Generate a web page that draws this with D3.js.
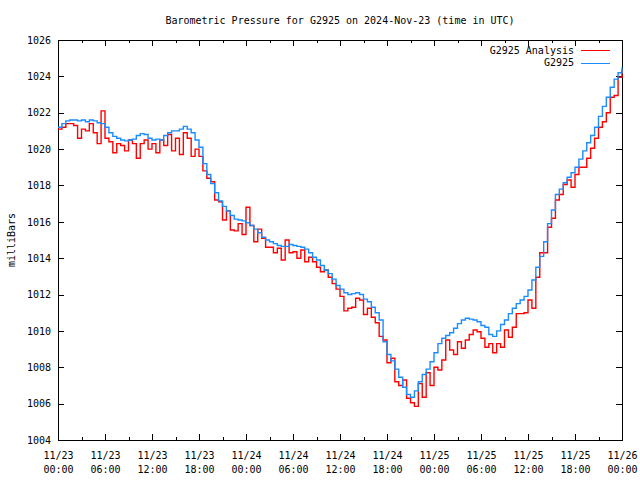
<!DOCTYPE html>
<html>
<head>
<meta charset="utf-8">
<script src="https://cdn.jsdelivr.net/npm/d3@7"></script>
<style>
  body { margin: 0; background: #fff; }
  svg { display: block; }
  text { font-family: "DejaVu Sans Mono", "Liberation Mono", monospace; font-size: 10px; fill: #000; }
</style>
</head>
<body>
<svg id="chart" width="640" height="480"></svg>
<script>
// ---------------- DATA ----------------
const titleText = "Barometric Pressure for G2925 on 2024-Nov-23 (time in UTC)";
const yAxisLabel = "milliBars";
const seriesNames = ["G2925 Analysis", "G2925"];
const startHour = 0;      // 11/23 00:00 UTC
const stepHours = 0.5;    // sample spacing
// X tick labels (every 6 hours from 11/23 00:00 to 11/26 00:00)
const xTickDates = ["11/23","11/23","11/23","11/23","11/24","11/24","11/24","11/24","11/25","11/25","11/25","11/25","11/26"];
const xTickTimes = ["00:00","06:00","12:00","18:00","00:00","06:00","12:00","18:00","00:00","06:00","12:00","18:00","00:00"];
const yTicks = [1004, 1006, 1008, 1010, 1012, 1014, 1016, 1018, 1020, 1022, 1024, 1026];

// G2925 (observed) — every 30 min
const g2925 = [
  1021.2,1021.4,1021.55,1021.6,1021.6,1021.55,1021.6,1021.5,1021.6,1021.55,
  1021.45,1021.4,1021.2,1020.9,1020.7,1020.6,1020.5,1020.45,1020.5,1020.55,
  1020.75,1020.85,1020.8,1020.6,1020.5,1020.55,1020.5,1020.75,1020.9,1021.0,
  1021.0,1021.1,1021.25,1021.1,1020.9,1020.5,1020.1,1019.2,1018.6,1018.1,
  1017.6,1017.15,1016.85,1016.6,1016.35,1016.15,1016.1,1016.05,1015.95,1015.8,
  1015.6,1015.4,1015.15,1015.0,1014.9,1014.8,1014.7,1014.65,1014.65,1014.75,
  1014.7,1014.65,1014.6,1014.5,1014.3,1014.05,1013.9,1013.6,1013.35,1013.15,
  1012.85,1012.5,1012.3,1012.1,1012.0,1012.05,1012.1,1012.0,1011.75,1011.6,
  1011.3,1011.0,1010.6,1009.4,1008.7,1008.35,1007.9,1007.45,1006.9,1006.5,
  1006.35,1006.7,1007.2,1007.6,1007.9,1008.3,1008.8,1009.3,1009.6,1009.75,
  1009.9,1010.15,1010.4,1010.6,1010.7,1010.65,1010.6,1010.5,1010.3,1010.2,
  1009.8,1009.7,1010.0,1010.35,1010.6,1010.95,1011.25,1011.5,1011.7,1011.9,
  1012.25,1012.8,1013.5,1014.1,1014.9,1015.9,1016.65,1017.5,1017.8,1018.15,
  1018.45,1018.7,1019.0,1019.45,1019.9,1020.35,1020.75,1021.2,1021.8,1022.35,
  1022.85,1023.4,1023.85,1024.2,1024.5
];

// G2925 Analysis — every 30 min
const g2925Analysis = [
  1021.1,1021.2,1021.4,1021.4,1021.3,1020.6,1021.1,1021.0,1021.4,1020.9,
  1020.3,1022.1,1020.6,1020.4,1019.8,1020.3,1020.2,1019.9,1020.5,1020.3,
  1019.5,1020.3,1020.5,1020.0,1020.3,1019.8,1020.5,1020.2,1020.8,1019.9,
  1020.6,1019.7,1020.9,1020.6,1019.6,1020.0,1019.6,1018.8,1018.4,1018.2,
  1017.2,1017.1,1016.1,1016.6,1015.55,1015.5,1015.9,1015.3,1016.8,1015.8,
  1014.9,1015.6,1015.1,1014.6,1014.6,1014.3,1014.55,1013.9,1015.0,1014.3,
  1014.35,1014.0,1014.45,1013.8,1014.05,1013.8,1013.5,1013.25,1013.35,1012.95,
  1012.6,1012.3,1011.9,1011.1,1011.25,1011.3,1011.8,1011.7,1010.9,1011.25,
  1010.75,1010.45,1009.7,1009.5,1008.25,1008.5,1007.2,1007.0,1007.3,1006.3,
  1006.05,1005.85,1007.1,1006.35,1007.7,1007.0,1008.0,1007.85,1008.4,1009.5,
  1008.95,1008.7,1009.4,1009.05,1009.5,1009.8,1010.05,1009.95,1009.6,1009.1,
  1009.3,1008.8,1009.3,1009.1,1010.05,1009.65,1010.2,1010.95,1010.95,1011.0,
  1011.7,1011.25,1012.95,1014.3,1014.3,1015.7,1016.2,1017.2,1017.5,1018.05,
  1018.3,1017.9,1018.6,1019.0,1019.0,1019.5,1020.05,1020.6,1021.2,1021.5,
  1022.0,1022.85,1022.95,1023.95,1024.35
];

const seriesColors = ["#ff0000", "#1a8cff"];

// ---------------- CHART ----------------
const svg = d3.select("#chart");
const margin = { left: 58, right: 18, top: 40, bottom: 40 };
const W = 640, H = 480;
const x = d3.scaleLinear().domain([0, 72]).range([margin.left, W - margin.right]);
const y = d3.scaleLinear().domain([1004, 1026]).range([H - margin.bottom, margin.top]);

const majorX = d3.range(0, 73, 6);
const minorX = d3.range(3, 72, 6);

// axes (inward ticks on all four sides)
const gAxes = svg.append("g").attr("shape-rendering", "crispEdges");

gAxes.append("g")
  .attr("transform", `translate(${x.range()[0]},0)`)
  .call(d3.axisLeft(y).tickValues(yTicks).tickFormat(d3.format("d")).tickSizeInner(-6).tickSizeOuter(0).tickPadding(7))
  .call(g => g.select(".domain").remove());

gAxes.append("g")
  .attr("transform", `translate(${x.range()[1]},0)`)
  .call(d3.axisRight(y).tickValues(yTicks).tickFormat("").tickSizeInner(-6).tickSizeOuter(0))
  .call(g => g.select(".domain").remove());

const bottom = gAxes.append("g")
  .attr("transform", `translate(0,${y.range()[0]})`)
  .call(d3.axisBottom(x).tickValues(majorX).tickFormat("").tickSizeInner(-6).tickSizeOuter(0))
  .call(g => g.select(".domain").remove());

gAxes.append("g")
  .attr("transform", `translate(0,${y.range()[0]})`)
  .call(d3.axisBottom(x).tickValues(minorX).tickFormat("").tickSizeInner(-3).tickSizeOuter(0))
  .call(g => g.select(".domain").remove());

gAxes.append("g")
  .attr("transform", `translate(0,${y.range()[1]})`)
  .call(d3.axisTop(x).tickValues(majorX).tickFormat("").tickSizeInner(-6).tickSizeOuter(0))
  .call(g => g.select(".domain").remove());

gAxes.append("g")
  .attr("transform", `translate(0,${y.range()[1]})`)
  .call(d3.axisTop(x).tickValues(minorX).tickFormat("").tickSizeInner(-3).tickSizeOuter(0))
  .call(g => g.select(".domain").remove());

gAxes.selectAll(".tick line").attr("stroke", "#000");
gAxes.selectAll("text").attr("font-family", null).attr("font-size", null);

// two-line x tick labels
bottom.selectAll(".tick").each(function(d, i) {
  const t = d3.select(this).select("text");
  t.attr("y", null).attr("dy", null).text(null);
  t.append("tspan").attr("x", 0).attr("y", 19).text(xTickDates[i]);
  t.append("tspan").attr("x", 0).attr("y", 33).text(xTickTimes[i]);
});

// frame
svg.append("rect")
  .attr("x", x.range()[0] + 0.5).attr("y", y.range()[1] + 0.5)
  .attr("width", x.range()[1] - x.range()[0]).attr("height", y.range()[0] - y.range()[1])
  .attr("fill", "none").attr("stroke", "#000").attr("shape-rendering", "crispEdges");

// series
const line = d3.line()
  .x((d, i) => x(startHour + i * stepHours))
  .y(d => y(d))
  .curve(d3.curveStepAfter);

const allSeries = [g2925Analysis, g2925];
svg.append("g").selectAll("path")
  .data(allSeries)
  .join("path")
  .attr("d", line)
  .attr("fill", "none")
  .attr("stroke", (d, i) => seriesColors[i])
  .attr("stroke-width", 1.4)
  .attr("stroke-linejoin", "miter");

// legend
const legend = svg.append("g");
seriesNames.forEach((name, i) => {
  const ly = 50 + i * 12.5;
  legend.append("text")
    .attr("x", 574).attr("y", ly).attr("dy", "0.35em")
    .attr("text-anchor", "end").text(name);
  legend.append("line")
    .attr("x1", 581).attr("x2", 610).attr("y1", ly + 0.5).attr("y2", ly + 0.5)
    .attr("stroke", seriesColors[i]).attr("stroke-width", 1)
    .attr("shape-rendering", "crispEdges");
});

// title
svg.append("text")
  .attr("x", (x.range()[0] + x.range()[1]) / 2).attr("y", 20).attr("dy", "0.35em")
  .attr("text-anchor", "middle").text(titleText);

// y axis label
svg.append("text")
  .attr("transform", `translate(11,${(y.range()[0] + y.range()[1]) / 2}) rotate(-90)`)
  .attr("text-anchor", "middle").attr("dy", "0.35em").text(yAxisLabel);
</script>
</body>
</html>
